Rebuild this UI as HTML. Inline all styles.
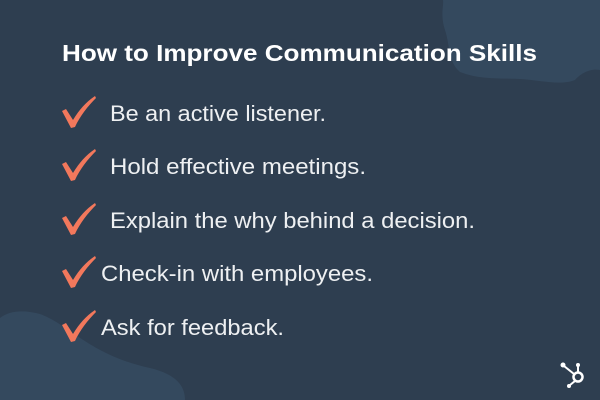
<!DOCTYPE html>
<html><head><meta charset="utf-8"><style>
html,body{margin:0;padding:0;background:#2e3e50;}
svg{display:block}
</style></head><body>
<svg width="600" height="400" viewBox="0 0 600 400" xmlns="http://www.w3.org/2000/svg">
<rect width="600" height="400" fill="#2e3e50"/>
<path d="M443 0 L600 0 L600 70 C590 68 580 74 575 80 C560 86 540 80 520 79 C500 78 480 80 460 72 C448 62 450 45 445 30 C440 15 444 5 443 0 Z" fill="#34495e"/>
<path d="M0 318 C10 310 25 310 40 314 C70 325 90 355 150 368 C175 374 185 385 185 400 L0 400 Z" fill="#34495e"/>
<text x="62" y="61" textLength="475" lengthAdjust="spacingAndGlyphs" font-family="Liberation Sans, sans-serif" font-weight="bold" font-size="23.5" fill="#ffffff">How to Improve Communication Skills</text>
<g fill="#f2785c">
<path id="ck" d="M62 111 L66 109 L73 120 C79 110 86 102 95 96 L96 98 C88 106 80 116 75 127 L71 128 Z"/>
<use href="#ck" y="53"/>
<use href="#ck" y="107"/>
<use href="#ck" y="160"/>
<use href="#ck" y="214"/>
</g>
<g font-family="Liberation Sans, sans-serif" font-size="22.5" fill="#eef0f2" lengthAdjust="spacingAndGlyphs">
<text x="110" y="121" textLength="216" lengthAdjust="spacingAndGlyphs">Be an active listener.</text>
<text x="110" y="174" textLength="256" lengthAdjust="spacingAndGlyphs">Hold effective meetings.</text>
<text x="110" y="228" textLength="365" lengthAdjust="spacingAndGlyphs">Explain the why behind a decision.</text>
<text x="101" y="281" textLength="272" lengthAdjust="spacingAndGlyphs">Check-in with employees.</text>
<text x="101" y="335" textLength="183" lengthAdjust="spacingAndGlyphs">Ask for feedback.</text>
</g>
<g stroke="#ffffff" fill="none">
<circle cx="578" cy="377" r="4.5" stroke-width="2.5"/>
<line x1="578" y1="372" x2="578" y2="366" stroke-width="2"/>
<line x1="574" y1="374" x2="564" y2="366" stroke-width="2"/>
<line x1="575" y1="381" x2="570" y2="385" stroke-width="2"/>
<circle cx="563" cy="365" r="2.5" fill="#fff" stroke="none"/>
<circle cx="578" cy="365" r="2" fill="#fff" stroke="none"/>
<circle cx="569" cy="386" r="2" fill="#fff" stroke="none"/>
</g>
</svg>
</body></html>
